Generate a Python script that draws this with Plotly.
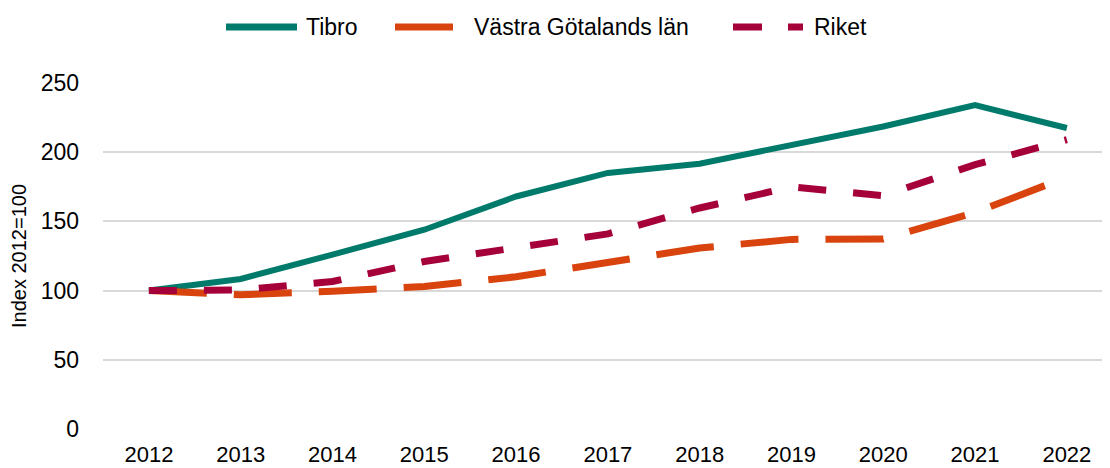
import plotly.graph_objects as go

years = ["2012", "2013", "2014", "2015", "2016", "2017", "2018", "2019", "2020", "2021", "2022"]
tibro = [100, 108.4, 126, 144, 168, 185, 191.7, 205, 218.6, 234, 217.5]
vastra = [100, 97, 99.5, 103, 110, 120, 130.8, 137, 137.3, 156.5, 182]
riket = [100, 100.5, 106.6, 121, 131, 141, 159.7, 174.9, 168.6, 191, 209]
y_ticks = [0, 50, 100, 150, 200, 250]

# the page body has an 8px margin, so the figure is drawn 8px right/down
OFF = 8
W, H = 1110 - OFF, 468 - OFF
ML, MR, MT, MB = 103 - OFF, 0, 83 - OFF, 468 - 429.3
PW, PH = W - ML - MR, H - MT - MB

series = [
    dict(name="Tibro", y=tibro, color="#007A6A", width=6, dash="solid",
         leg=(226, 297, 304), legdash="solid"),
    dict(name="Västra Götalands län", y=vastra, color="#D9430E", width=7, dash="58px,27px",
         leg=(395, 453, 472), legdash="62px,26px"),
    dict(name="Riket", y=riket, color="#A6003A", width=7, dash="28px,27px",
         leg=(733, 803, 812), legdash="29px,26px"),
]

def px_x(p):
    return (p - OFF - ML) / PW

def px_y(p):
    return (H - MB - (p - OFF)) / PH

fig = go.Figure()
for s in series:
    fig.add_trace(go.Scatter(x=years, y=s["y"], name=s["name"], mode="lines",
                             showlegend=False,
                             line=dict(color=s["color"], width=s["width"], dash=s["dash"])))
    x0, x1, xt = s["leg"]
    fig.add_shape(type="line", xref="paper", yref="paper",
                  x0=px_x(x0), x1=px_x(x1), y0=px_y(27), y1=px_y(27),
                  line=dict(color=s["color"], width=7, dash=s["legdash"]))
    fig.add_annotation(text=s["name"], xref="paper", yref="paper",
                       x=px_x(xt), y=px_y(27), xanchor="left", yanchor="middle",
                       showarrow=False, font=dict(size=23, color="#000000"))

font_family = "Liberation Sans, Arial, sans-serif"
fig.update_layout(
    width=W, height=H,
    margin=dict(l=ML, r=MR, t=MT, b=MB, autoexpand=False),
    paper_bgcolor="white", plot_bgcolor="white",
    font=dict(family=font_family, size=23, color="#000000"),
    showlegend=False,
    xaxis=dict(type="category", range=[-0.5, 10.47], showgrid=False, zeroline=False,
               showline=False, ticks="", tickfont=dict(size=22), ticklabelstandoff=10,
               automargin=False),
    yaxis=dict(range=[0, 250], tickvals=y_ticks, showgrid=True, gridcolor="#d9d9d9",
               gridwidth=1.5, zeroline=False, showline=False, ticks="",
               tickfont=dict(size=23), ticklabelstandoff=23, automargin=False,
               title=dict(text="Index 2012=100", font=dict(size=20), standoff=11)),
)
fig.write_html("out.html")
